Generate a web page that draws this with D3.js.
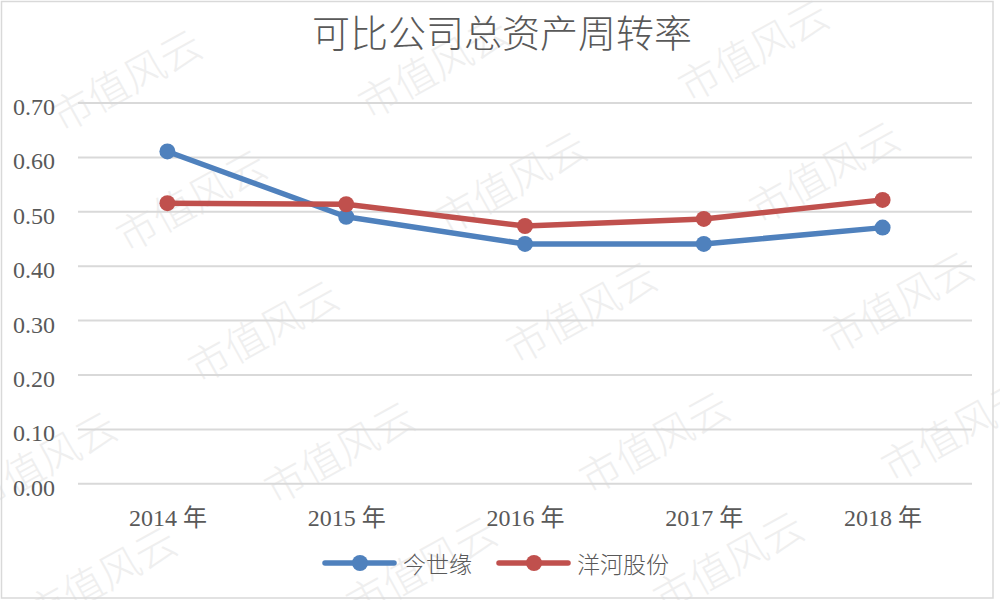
<!doctype html>
<html lang="zh">
<head>
<meta charset="utf-8">
<title>可比公司总资产周转率</title>
<script src="https://d3js.org/d3.v7.min.js"></script>
<style>
  body { margin: 0; background: #fff; }
  text { fill: #595959; }
  .wm { fill: #efefef; font-family: "Noto Sans CJK SC"; font-weight: 300; }
</style>
</head>
<body>
<div id="chart"></div>
<script>
// data
var years = ["2014 年", "2015 年", "2016 年", "2017 年", "2018 年"];
var jinshiyuan = [0.61, 0.49, 0.44, 0.44, 0.47];
var yanghe = [0.515, 0.513, 0.473, 0.486, 0.521];
var seriesNames = ["今世缘", "洋河股份"];
var yTicks = [0, 0.1, 0.2, 0.3, 0.4, 0.5, 0.6, 0.7];

var colors = ["#4f81bd", "#c0504d"];
var W = 1000, H = 600;
var plotL = 78, plotR = 972, plotT = 102.5, plotB = 483.3;

var svg = d3.select("#chart").append("svg")
  .attr("width", W).attr("height", H);

svg.append("rect").attr("width", W).attr("height", H).attr("fill", "#fff");

// watermark
var wmPos = [[125,78],[432,65],[752,48],[190,198],[510,180],[823,170],
  [262,329],[580,310],[897,300],[40,460],[338,450],[653,440],[955,428],
  [100,575],[420,565],[727,560]];
svg.selectAll(".wm").data(wmPos).enter().append("text")
  .attr("class", "wm")
  .attr("transform", function(d){ return "translate(" + d[0] + "," + d[1] + ") rotate(-29)"; })
  .attr("text-anchor", "middle")
  .attr("dominant-baseline", "central")
  .style("font-size", "41px")
  .text("市值风云");

svg.append("rect").attr("x", 1.5).attr("y", 1.5).attr("width", 991.5).attr("height", 596.5)
  .attr("fill", "none").attr("stroke", "#d9d9d9").attr("stroke-width", 1.5);

var x = d3.scalePoint().domain(years).range([plotL, plotR]).padding(0.5);
var y = d3.scaleLinear().domain([0, 0.7]).range([plotB, plotT]);

var yAxis = svg.append("g")
  .attr("transform", "translate(" + plotL + ",0)")
  .call(d3.axisLeft(y).tickValues(yTicks).tickFormat(d3.format(".2f"))
    .tickSize(-(plotR - plotL)).tickPadding(23));
yAxis.select(".domain").remove();
yAxis.selectAll("line").attr("stroke", "#d9d9d9").attr("stroke-width", 2);
yAxis.selectAll("text")
  .attr("dy", "0.5em")
  .style("font-family", "'Liberation Serif', serif")
  .style("font-size", "24px")
  .attr("fill", "#595959");

var xAxis = svg.append("g")
  .attr("transform", "translate(0," + plotB + ")")
  .call(d3.axisBottom(x).tickSize(0));
xAxis.select(".domain").remove();
xAxis.selectAll("text")
  .attr("y", 43).attr("dy", null)
  .style("font-family", "'Liberation Serif', 'Noto Sans CJK SC', serif")
  .style("font-size", "24px")
  .attr("fill", "#595959");

// title
svg.append("text")
  .attr("x", 502).attr("y", 47)
  .attr("text-anchor", "middle")
  .style("font-family", "'Noto Sans CJK SC'")
  .style("font-weight", 300)
  .style("font-size", "38px")
  .text("可比公司总资产周转率");

var series = [jinshiyuan, yanghe];
var line = d3.line()
  .x(function(d, i){ return x(years[i]); })
  .y(function(d){ return y(d); });

series.forEach(function(vals, k){
  svg.append("path")
    .attr("d", line(vals))
    .attr("fill", "none")
    .attr("stroke", colors[k])
    .attr("stroke-width", 5.5)
    .attr("stroke-linejoin", "round")
    .attr("stroke-linecap", "round");
  svg.selectAll(".dot" + k).data(vals).enter().append("circle")
    .attr("class", "dot" + k)
    .attr("cx", function(d, i){ return x(years[i]); })
    .attr("cy", function(d){ return y(d); })
    .attr("r", 8)
    .attr("fill", colors[k]);
});

// legend
var legendX = [325, 499];
seriesNames.forEach(function(name, k){
  var g = svg.append("g").attr("transform", "translate(" + legendX[k] + ",563)");
  g.append("line").attr("x1", 0).attr("x2", 69).attr("y1", 0).attr("y2", 0)
    .attr("stroke", colors[k]).attr("stroke-width", 5.5).attr("stroke-linecap", "round");
  g.append("circle").attr("cx", 35).attr("cy", 0).attr("r", 8).attr("fill", colors[k]);
  g.append("text").attr("x", 78).attr("y", 0)
    .attr("dominant-baseline", "central")
    .style("font-family", "'Noto Sans CJK SC'")
    .style("font-weight", 300)
    .style("font-size", "23px")
    .text(name);
});
</script>
</body>
</html>
